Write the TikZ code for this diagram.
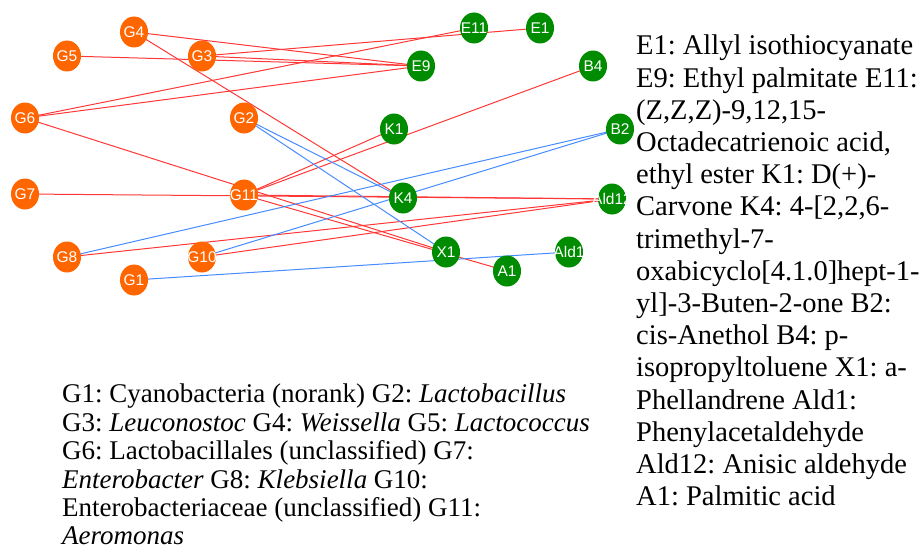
\documentclass[tikz,border=0pt]{standalone}
\usepackage{fontspec}
\setmainfont{Liberation Serif}
\newfontfamily\labelfont{Liberation Sans}
\usetikzlibrary{shapes.geometric,backgrounds}

\definecolor{genuscol}{RGB}{255,102,0}
\definecolor{compcol}{RGB}{0,140,0}
\definecolor{poscol}{RGB}{255,55,55}
\definecolor{negcol}{RGB}{70,140,255}

\tikzset{
  vtx/.style={ellipse, inner sep=0pt, minimum width=28pt, minimum height=31pt,
    text width=0pt, align=center, text=white,
    font=\labelfont\fontsize{15.5}{15.5}\selectfont},
  genus/.style={vtx, fill=genuscol},
  comp/.style={vtx, fill=compcol},
  posedge/.style={draw=poscol, line width=1pt},
  negedge/.style={draw=negcol, line width=1pt},
  legend/.style={anchor=north west, align=left, inner sep=0pt, text=black}
}

\begin{document}
\begin{tikzpicture}[x=1pt, y=-1pt]
\useasboundingbox (0,0) rectangle (921,551);

% genera
\node[genus] (G4)  at (134,32)  {\makebox[0pt]{G4}};
\node[genus] (G5)  at (67,56)   {\makebox[0pt]{G5}};
\node[genus] (G3)  at (202,56)  {\makebox[0pt]{G3}};
\node[genus] (G6)  at (25,118)  {\makebox[0pt]{G6}};
\node[genus] (G2)  at (244,118) {\makebox[0pt]{G2}};
\node[genus] (G7)  at (25,194)  {\makebox[0pt]{G7}};
\node[genus] (G11) at (244,195) {\makebox[0pt]{G11}};
\node[genus] (G8)  at (67,257)  {\makebox[0pt]{G8}};
\node[genus] (G10) at (202,257) {\makebox[0pt]{G10}};
\node[genus] (G1)  at (134,280) {\makebox[0pt]{G1}};

% volatile compounds
\node[comp] (E11)   at (474,28)  {\makebox[0pt]{E11}};
\node[comp] (E1)    at (540,28)  {\makebox[0pt]{E1}};
\node[comp] (E9)    at (421,66)  {\makebox[0pt]{E9}};
\node[comp] (B4)    at (593,66)  {\makebox[0pt]{B4}};
\node[comp] (K1)    at (394,129) {\makebox[0pt]{K1}};
\node[comp] (B2)    at (620,129) {\makebox[0pt]{B2}};
\node[comp] (K4)    at (403,198) {\makebox[0pt]{K4}};
\node[comp] (Ald12) at (612,199) {\makebox[0pt]{Ald12}};
\node[comp] (X1)    at (446,252) {\makebox[0pt]{X1}};
\node[comp] (Ald1)  at (569,252) {\makebox[0pt]{Ald1}};
\node[comp] (A1)    at (507,271) {\makebox[0pt]{A1}};

% correlations, drawn under the nodes
\begin{pgfonlayer}{background}
\path[posedge] (G4.center) -- (E9.center);
\path[posedge] (G4.center) -- (K4.center);
\path[posedge] (G5.center) -- (E9.center);
\path[posedge] (G3.center) -- (E1.center);
\path[posedge] (G3.center) -- (E9.center);
\path[posedge] (G6.center) -- (E11.center);
\path[posedge] (G6.center) -- (E9.center);
\path[posedge] (G6.center) -- (X1.center);
\path[posedge] (G7.center) -- (Ald12.center);
\path[posedge] (G11.center) -- (Ald12.center);
\path[posedge] (G11.center) -- (K1.center);
\path[posedge] (G11.center) -- (B4.center);
\path[posedge] (G11.center) -- (A1.center);
\path[posedge] (G8.center) -- (Ald12.center);
\path[posedge] (G10.center) -- (Ald12.center);
\path[negedge] (G2.center) -- (X1.center);
\path[negedge] (G2.center) -- (K4.center);
\path[negedge] (G8.center) -- (B2.center);
\path[negedge] (G10.center) -- (B2.center);
\path[negedge] (G1.center) -- (Ald1.center);
\end{pgfonlayer}

% key to the compounds
\node[legend, font=\frenchspacing\fontsize{28.5}{32.2}\selectfont] (ckey) at (636,35) {%
E1: Allyl isothiocyanate\\
E9: Ethyl palmitate E11:\\
(Z,Z,Z)-9,12,15-\\
Octadecatrienoic acid,\\
ethyl ester K1: D(+)-\\
Carvone K4: 4-[2,2,6-\\
trimethyl-7-\\
oxabicyclo[4.1.0]hept-1-\\
yl]-3-Buten-2-one B2:\\
cis-Anethol B4: p-\\
isopropyltoluene X1: a-\\
Phellandrene Ald1:\\
Phenylacetaldehyde\\
Ald12: Anisic aldehyde\\
A1: Palmitic acid};

% key to the genera
\node[legend, font=\frenchspacing\fontsize{27}{28.4}\selectfont] (gkey) at (62,384) {%
G1: Cyanobacteria (norank) G2: \textit{Lactobacillus}\\
G3: \textit{Leuconostoc} G4: \textit{Weissella} G5: \textit{Lactococcus}\\
G6: Lactobacillales (unclassified) G7:\\
\textit{Enterobacter} G8: \textit{Klebsiella} G10:\\
Enterobacteriaceae (unclassified) G11:\\
\textit{Aeromonas}};
\end{tikzpicture}
\end{document}
